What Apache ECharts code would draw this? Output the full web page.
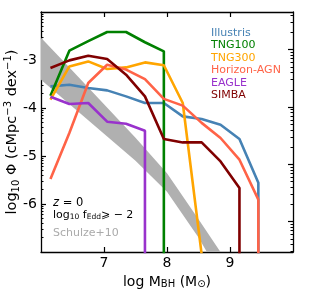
<!DOCTYPE html>
<html><head><meta charset="utf-8">
<script src="https://cdn.jsdelivr.net/npm/echarts@6/dist/echarts.min.js"></script>
<style>html,body{margin:0;padding:0;background:#fff}#c{width:311px;height:293px}</style>
</head><body><div id="c"></div>
<script>
// ---- data ----
const binsX = [6.15, 6.45, 6.75, 7.05, 7.35, 7.65, 7.95, 8.25, 8.55, 8.85, 9.15, 9.45];
const illustris = [-3.55, -3.515, -3.583, -3.633, -3.758, -3.896, -3.896, -4.175, -4.23, -4.348, -4.646, -5.556];
const tng100    = [-3.744, -2.806, -2.608, -2.417, -2.417, -2.63, -2.82, null, null, null, null, null];
const tng300    = [-3.827, -3.133, -3.029, -3.188, -3.154, -3.05, -3.11, -3.896, -7.05, null, null, null];
const horizon   = [-5.48, -4.52, -3.479, -3.098, -3.2, -3.4, -3.81, -3.95, -4.31, -4.625, -5.077, -5.91];
const eagle     = [-3.765, -3.917, -3.896, -4.285, -4.327, -4.473, null, null, null, null, null, null];
const simba     = [-3.167, -3.008, -2.91, -2.98, -3.306, -3.758, -4.646, -4.717, -4.717, -5.113, -5.667, null];
const emptyBin = -9; // empty bins (log of zero) fall below the plotted range

const schulzeX     = [6.0, 6.5, 7.0, 7.5, 8.0, 8.5, 8.9];
const schulzeUpper = [-2.535, -3.223, -3.921, -4.619, -5.358, -6.317, -7.1];
const schulzeLower = [-3.41, -3.973, -4.535, -5.098, -5.744, -6.7, -7.6];

const seriesNames = ['Illustris', 'TNG100', 'TNG300', 'Horizon-AGN', 'EAGLE', 'SIMBA'];
const seriesVals = [illustris, tng100, tng300, horizon, eagle, simba];
const seriesColors = ['#4682b4', '#008000', '#ffa500', '#ff6347', '#9932cc', '#800000'];

const xTicks = [7, 8, 9];
const yTicks = [-6, -5, -4, -3];
const rightTicks = [-6, -5, -4, -3];

// ---- helpers ----
function buildLine(vals) {
  const pts = [];
  let lastX = null;
  vals.forEach((v, i) => { if (v !== null) { pts.push([binsX[i], v]); lastX = binsX[i]; } });
  pts.push([lastX, emptyBin]);
  return pts;
}
function logMinor(lo, hi) {
  const out = [];
  for (let n = Math.floor(lo) - 1; n <= Math.ceil(hi); n++) {
    for (let k = 2; k <= 9; k++) {
      const v = n + Math.log10(k);
      if (v > lo && v < hi) out.push(+v.toFixed(4));
    }
  }
  return out;
}
const FONT = 'DejaVu Sans';
const black = '#000';
const yMin = -7, yMax = -2;
const rMin = -6.529, rMax = -2.342;

const axisLineStyle = { show: true, lineStyle: { color: black, width: 1.3 } };

const lineSeries = seriesNames.map((name, i) => ({
  name, type: 'line', xAxisIndex: 0, yAxisIndex: 0,
  data: buildLine(seriesVals[i]), showSymbol: false, symbol: 'none',
  lineStyle: { color: seriesColors[i], width: 2.6 }, itemStyle: { color: seriesColors[i] },
  clip: true, z: 3 + i, animation: false
}));

const bandSeries = {
  type: 'custom', xAxisIndex: 0, yAxisIndex: 0, data: [0], z: 2, animation: false, silent: true,
  renderItem: function (params, api) {
    const pts = [];
    schulzeX.forEach((x, i) => pts.push(api.coord([x, schulzeUpper[i]])));
    for (let i = schulzeX.length - 1; i >= 0; i--) pts.push(api.coord([schulzeX[i], schulzeLower[i]]));
    const cs = params.coordSys;
    return {
      type: 'polygon', shape: { points: pts }, style: { fill: '#b0b0b0' },
      clipPath: { type: 'rect', shape: { x: cs.x, y: cs.y, width: cs.width, height: cs.height } }
    };
  }
};

const option = {
  animation: false,
  backgroundColor: '#fff',
  grid: { left: 41, right: 18, top: 12, bottom: 41, containLabel: false, outerBoundsMode: 'none' },
  legend: {
    orient: 'vertical', left: 206, top: 27, padding: 0, itemGap: 1,
    itemWidth: 0, itemHeight: 0, icon: 'rect', selectedMode: false,
    textStyle: { fontFamily: FONT, fontSize: 11, lineHeight: 11.5 },
    data: seriesNames.map((n, i) => ({ name: n, textStyle: { color: seriesColors[i] } }))
  },
  xAxis: [
    {
      type: 'value', min: 6, max: 10, position: 'bottom',
      axisLine: axisLineStyle, splitLine: { show: false },
      axisTick: { inside: true, length: 5, customValues: xTicks, lineStyle: { color: black, width: 1.2 } },
      axisLabel: { customValues: xTicks, color: black, fontFamily: FONT, fontSize: 14, margin: 4 },
      name: '{n|log M}{s|BH}{n| (M}{s|⊙}{n|)}', nameLocation: 'middle', nameGap: 19, nameMoveOverlap: false,
      nameTextStyle: {
        rich: {
          n: { fontFamily: FONT, fontSize: 14, color: black, verticalAlign: 'bottom', lineHeight: 18 },
          s: { fontFamily: FONT, fontSize: 10, color: black, verticalAlign: 'bottom', lineHeight: 14 }
        }
      }
    },
    {
      type: 'value', min: 6, max: 10, position: 'top',
      axisLine: axisLineStyle, splitLine: { show: false },
      axisTick: { inside: true, length: 5, customValues: xTicks, lineStyle: { color: black, width: 1.2 } },
      axisLabel: { show: false }
    }
  ],
  yAxis: [
    {
      type: 'value', min: yMin, max: yMax, position: 'left',
      axisLine: axisLineStyle, splitLine: { show: false },
      axisTick: { inside: true, length: 5, customValues: yTicks, lineStyle: { color: black, width: 1.2 } },
      axisLabel: { customValues: yTicks, color: black, fontFamily: FONT, fontSize: 14, margin: 4,
        formatter: v => String(v) },
      name: '{n|log}{s|10}{n| Φ (cMpc}{p|−3}{n| dex}{p|−1}{n|)}', nameLocation: 'middle', nameGap: 20, nameRotate: 90,
      nameMoveOverlap: false,
      nameTextStyle: {
        rich: {
          n: { fontFamily: FONT, fontSize: 14.5, color: black, verticalAlign: 'middle', lineHeight: 18 },
          s: { fontFamily: FONT, fontSize: 10, color: black, verticalAlign: 'bottom', lineHeight: 14 },
          p: { fontFamily: FONT, fontSize: 10, color: black, verticalAlign: 'top', lineHeight: 14 }
        }
      }
    },
    {
      type: 'value', min: yMin, max: yMax, position: 'left',
      axisLine: { show: false }, splitLine: { show: false },
      axisTick: { show: true, inside: true, length: 2.5, customValues: logMinor(yMin, yMax), lineStyle: { color: black, width: 1 } },
      axisLabel: { show: false }
    },
    {
      type: 'value', min: rMin, max: rMax, position: 'right',
      axisLine: axisLineStyle, splitLine: { show: false },
      axisTick: { inside: true, length: 5, customValues: rightTicks, lineStyle: { color: black, width: 1.2 } },
      axisLabel: { show: false }
    },
    {
      type: 'value', min: rMin, max: rMax, position: 'right',
      axisLine: { show: false }, splitLine: { show: false },
      axisTick: { show: true, inside: true, length: 2.5, customValues: logMinor(rMin, rMax), lineStyle: { color: black, width: 1 } },
      axisLabel: { show: false }
    }
  ],
  graphic: [
    { type: 'text', left: 53, top: 197, style: {
      rich: { i: { fontFamily: FONT, fontSize: 11.5, fontStyle: 'italic', fill: black }, n: { fontFamily: FONT, fontSize: 11.5, fill: black } },
      text: '{i|z}{n| = 0}' } },
    { type: 'text', left: 53, top: 210, style: {
      rich: {
        n: { fontFamily: FONT, fontSize: 11, fill: black, verticalAlign: 'bottom', lineHeight: 14 },
        s: { fontFamily: FONT, fontSize: 7.5, fill: black, verticalAlign: 'bottom', lineHeight: 11 }
      },
      text: '{n|log}{s|10}{n| f}{s|Edd}{n|⩾ − 2}' } },
    { type: 'text', left: 53, top: 228, style: { text: 'Schulze+10', fontFamily: FONT, fontSize: 11, fill: '#aaaaaa' } }
  ],
  series: [bandSeries].concat(lineSeries)
};
const chart = echarts.init(document.getElementById('c'), null, { renderer: 'canvas' });
chart.setOption(option);
</script></body></html>
